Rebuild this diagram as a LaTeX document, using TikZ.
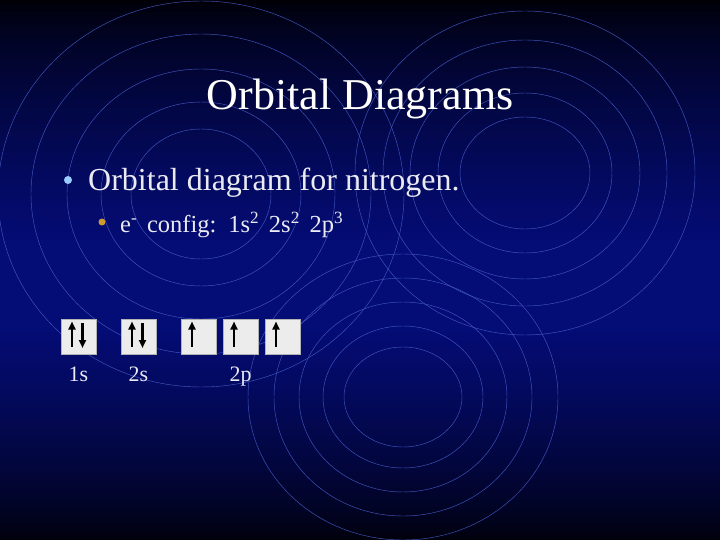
\documentclass[tikz,border=0pt]{standalone}
\usepackage{fontspec}
\setmainfont{Liberation Serif}
\newfontfamily\configfont[WordSpace=1.6]{Liberation Serif}
\usetikzlibrary{arrows.meta}
\definecolor{slidetop}{RGB}{0,0,6}
\definecolor{slidemid}{RGB}{4,12,118}
\definecolor{ringblue}{RGB}{66,86,192}
\definecolor{bulletblue}{RGB}{153,204,255}
\definecolor{bulletgold}{RGB}{204,153,51}
\definecolor{textgray}{RGB}{234,234,242}
\definecolor{boxgray}{RGB}{236,236,236}
\tikzset{
  ring/.style={ringblue,line width=0.45pt},
  titletext/.style={text=white,inner sep=0pt,font=\fontsize{44}{50}\selectfont},
  bodytext/.style={text=textgray,inner sep=0pt,font=\fontsize{32}{38}\selectfont},
  subtext/.style={text=textgray,inner sep=0pt,font=\configfont\fontsize{24.5}{29}\selectfont},
  dotbullet/.style={circle,inner sep=0pt,minimum size=#1},
  orbital/.style={draw=gray!60,fill=boxgray,line width=0.5pt,minimum size=35pt,inner sep=0pt},
  spin/.style={-{Triangle[length=8pt,width=7pt]},line width=2.6pt,black},
  lbl/.style={text=textgray,inner sep=0pt,font=\fontsize{22}{26}\selectfont}
}
\begin{document}
\begin{tikzpicture}[x=1pt,y=-1pt]
\useasboundingbox (0,0) rectangle (720,540);
% background, dark at top and bottom, blue in the middle
\foreach \y in {0,4,...,536} {
  \pgfmathsetmacro\t{max(0,(245-\y)/245,(\y-325)/215)}
  \pgfmathsetmacro\p{100*(1.0001-\t)^0.7}
  \fill[slidemid!\p!slidetop] (0,\y) rectangle (720,\y+4.5);
}
\coordinate (G1) at (201,194);
\coordinate (G2) at (525,173);
\coordinate (G3) at (403,397);
\coordinate (O1) at (78.5,336.5);
\coordinate (O2) at (138.5,336.5);
\coordinate (O3) at (198.5,336.5);
\coordinate (O4) at (240.5,336.5);
\coordinate (O5) at (282.5,336.5);
% background rings
\draw[ring] (G1) ellipse [x radius=70pt,y radius=65pt];
\draw[ring] (G1) ellipse [x radius=100pt,y radius=92pt];
\draw[ring] (G1) ellipse [x radius=134pt,y radius=125pt];
\draw[ring] (G1) ellipse [x radius=170pt,y radius=160pt];
\draw[ring] (G1) ellipse [x radius=203pt,y radius=193pt];
\draw[ring] (G2) ellipse [x radius=65pt,y radius=56pt];
\draw[ring] (G2) ellipse [x radius=87pt,y radius=80pt];
\draw[ring] (G2) ellipse [x radius=115pt,y radius=106pt];
\draw[ring] (G2) ellipse [x radius=142pt,y radius=133pt];
\draw[ring] (G2) ellipse [x radius=170pt,y radius=162pt];
\draw[ring] (G3) ellipse [x radius=59pt,y radius=50pt];
\draw[ring] (G3) ellipse [x radius=80pt,y radius=71pt];
\draw[ring] (G3) ellipse [x radius=104pt,y radius=95pt];
\draw[ring] (G3) ellipse [x radius=129pt,y radius=119pt];
\draw[ring] (G3) ellipse [x radius=155pt,y radius=143pt];
% texts
\node[titletext,anchor=base] (title) at (360,110) {Orbital Diagrams};
\node[dotbullet=8pt,fill=bulletblue] (dot1) at (68,180) {};
\node[bodytext,anchor=base west] (point) at (88,191) {Orbital diagram for nitrogen.};
\node[dotbullet=7pt,fill=bulletgold] (dot2) at (102,222) {};
\node[subtext,anchor=base west] (config) at (120,233) {e\textsuperscript{-} config: 1s\textsuperscript{2} 2s\textsuperscript{2} 2p\textsuperscript{3}};
% orbital boxes
\node[orbital] (o1s) at (O1) {};
\node[orbital] (o2s) at (O2) {};
\node[orbital] (o2pa) at (O3) {};
\node[orbital] (o2pb) at (O4) {};
\node[orbital] (o2pc) at (O5) {};
\draw[spin] ([xshift=-6.5pt,yshift=-10pt]o1s.center) -- ([xshift=-6.5pt,yshift=15pt]o1s.center);
\draw[spin] ([xshift=4pt,yshift=13.5pt]o1s.center) -- ([xshift=4pt,yshift=-11.5pt]o1s.center);
\draw[spin] ([xshift=-6.5pt,yshift=-10pt]o2s.center) -- ([xshift=-6.5pt,yshift=15pt]o2s.center);
\draw[spin] ([xshift=4pt,yshift=13.5pt]o2s.center) -- ([xshift=4pt,yshift=-11.5pt]o2s.center);
\draw[spin] ([xshift=-6.5pt,yshift=-10pt]o2pa.center) -- ([xshift=-6.5pt,yshift=15pt]o2pa.center);
\draw[spin] ([xshift=-6.5pt,yshift=-10pt]o2pb.center) -- ([xshift=-6.5pt,yshift=15pt]o2pb.center);
\draw[spin] ([xshift=-6.5pt,yshift=-10pt]o2pc.center) -- ([xshift=-6.5pt,yshift=15pt]o2pc.center);
\node[lbl,anchor=base] (l1s) at ([yshift=-27pt]o1s.south) {1s};
\node[lbl,anchor=base] (l2s) at ([yshift=-27pt]o2s.south) {2s};
\node[lbl,anchor=base] (l2p) at ([yshift=-27pt]o2pb.south) {2p};
\end{tikzpicture}
\end{document}
